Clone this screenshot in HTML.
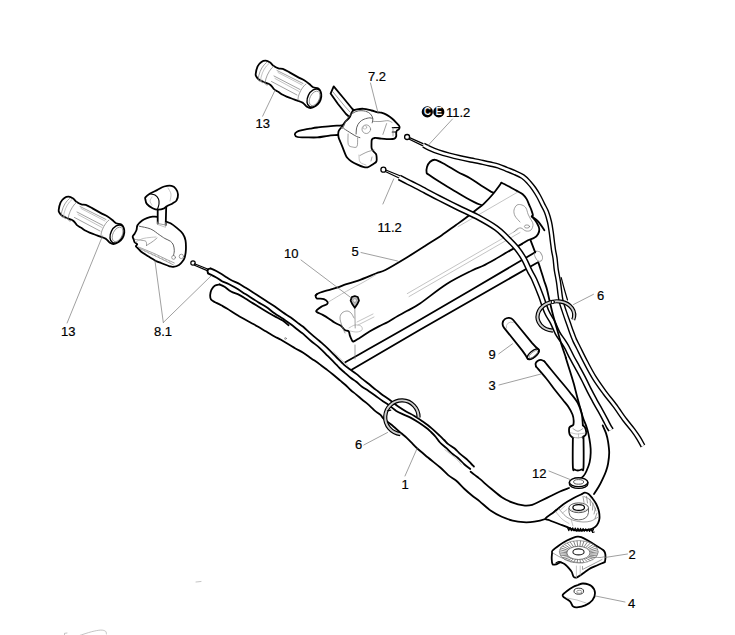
<!DOCTYPE html>
<html><head><meta charset="utf-8"><style>
html,body{margin:0;padding:0;background:#fff;overflow:hidden;width:735px;height:635px;}
svg{display:block;}
.k{fill:none;stroke:#000;stroke-width:1.8;stroke-linejoin:round;stroke-linecap:round;}
.kf{fill:#fff;stroke:#000;stroke-width:1.8;stroke-linejoin:round;stroke-linecap:round;}
.kt{fill:none;stroke:#000;stroke-width:1.2;stroke-linejoin:round;stroke-linecap:round;}
.g{fill:none;stroke:#777;stroke-width:0.7;stroke-linecap:round;}
.d{fill:none;stroke:#555;stroke-width:0.95;stroke-linecap:round;}
.gl{fill:none;stroke:#aaa;stroke-width:0.7;stroke-linecap:round;}
.w{fill:#fff;stroke:none;}
.cab{fill:none;stroke:#000;stroke-width:4.6;stroke-linejoin:round;stroke-linecap:butt;}
.cabw{fill:none;stroke:#fff;stroke-width:2.2;stroke-linejoin:round;stroke-linecap:butt;}
text{font-family:"Liberation Sans",sans-serif;font-size:13px;fill:#000;stroke:#000;stroke-width:0.2;}
</style></head><body>
<svg width="735" height="635" viewBox="0 0 735 635">
<g transform="translate(0.0 0.0)">
<path class="kf" d="M255.7 74.0C255.9 72.3 256.7 68.4 257.6 66.4C258.6 64.4 260.0 63.0 261.4 62.0C262.8 61.0 264.3 60.6 265.8 60.7C267.3 60.8 268.9 61.8 270.2 62.6C271.5 63.5 272.0 64.8 273.4 65.8C274.8 66.8 276.8 67.8 278.4 68.3C280.0 68.8 281.0 68.3 282.8 68.9C284.6 69.5 286.6 70.7 289.1 72.1C291.6 73.5 295.4 75.7 297.9 77.1C300.4 78.5 302.3 79.1 304.2 80.3C306.1 81.5 307.8 82.8 309.3 84.0C310.8 85.2 311.6 86.5 313.1 87.2C314.6 87.9 316.9 87.7 318.1 88.4C319.4 89.1 320.1 90.2 320.6 91.6C321.1 93.0 321.5 94.8 321.3 96.6C321.1 98.4 320.3 100.7 319.4 102.3C318.4 103.9 317.1 105.1 315.6 106.1C314.1 107.0 312.0 107.9 310.5 108.0C309.0 108.1 308.1 107.5 306.8 106.7C305.6 105.9 304.7 104.0 303.0 102.9C301.3 101.9 298.6 101.1 296.7 100.4C294.8 99.7 293.3 99.1 291.6 98.5C289.9 97.9 288.1 97.2 286.6 96.6C285.1 96.0 284.3 95.6 282.8 94.8C281.3 94.0 279.3 92.5 277.8 91.6C276.3 90.6 275.3 90.2 274.0 89.1C272.7 87.9 271.9 85.9 270.2 84.7C268.5 83.5 265.8 82.9 263.9 82.1C262.0 81.2 260.2 80.5 258.9 79.6C257.6 78.7 256.8 77.4 256.3 76.5C255.8 75.6 255.5 75.7 255.7 74.0Z" />
<path d="M266.5 62.5 A3.2 9.8 27 0 0 262 80.5" class="g"/>
<path d="M269 63.5 A3.2 9.8 27 0 0 264.5 81.8" class="gl"/>
<path d="M273.8 66 A3.2 9.8 27 0 0 268.6 84.5" class="g"/>
<path class="g" d="M277.0 70.5L303.0 83.5"/>
<path class="g" d="M274.0 76.0L300.0 89.5"/>
<path class="g" d="M271.5 81.5L297.0 95.0"/>
<path class="gl" d="M278.0 72.5L302.0 85.0"/>
<path class="gl" d="M275.0 78.5L299.0 91.5"/>
<path d="M306 84 A2.5 9.2 27 0 0 299.5 100.5" class="g"/>
<ellipse cx="314" cy="98" rx="6.2" ry="9.6" transform="rotate(27 314 98)" class="kf" style="stroke-width:1.4"/>
<ellipse cx="314.6" cy="98.4" rx="4.6" ry="7.8" transform="rotate(27 314.6 98.4)" class="g"/>
</g>
<g transform="translate(-197.0 136.0)">
<path class="kf" d="M255.7 74.0C255.9 72.3 256.7 68.4 257.6 66.4C258.6 64.4 260.0 63.0 261.4 62.0C262.8 61.0 264.3 60.6 265.8 60.7C267.3 60.8 268.9 61.8 270.2 62.6C271.5 63.5 272.0 64.8 273.4 65.8C274.8 66.8 276.8 67.8 278.4 68.3C280.0 68.8 281.0 68.3 282.8 68.9C284.6 69.5 286.6 70.7 289.1 72.1C291.6 73.5 295.4 75.7 297.9 77.1C300.4 78.5 302.3 79.1 304.2 80.3C306.1 81.5 307.8 82.8 309.3 84.0C310.8 85.2 311.6 86.5 313.1 87.2C314.6 87.9 316.9 87.7 318.1 88.4C319.4 89.1 320.1 90.2 320.6 91.6C321.1 93.0 321.5 94.8 321.3 96.6C321.1 98.4 320.3 100.7 319.4 102.3C318.4 103.9 317.1 105.1 315.6 106.1C314.1 107.0 312.0 107.9 310.5 108.0C309.0 108.1 308.1 107.5 306.8 106.7C305.6 105.9 304.7 104.0 303.0 102.9C301.3 101.9 298.6 101.1 296.7 100.4C294.8 99.7 293.3 99.1 291.6 98.5C289.9 97.9 288.1 97.2 286.6 96.6C285.1 96.0 284.3 95.6 282.8 94.8C281.3 94.0 279.3 92.5 277.8 91.6C276.3 90.6 275.3 90.2 274.0 89.1C272.7 87.9 271.9 85.9 270.2 84.7C268.5 83.5 265.8 82.9 263.9 82.1C262.0 81.2 260.2 80.5 258.9 79.6C257.6 78.7 256.8 77.4 256.3 76.5C255.8 75.6 255.5 75.7 255.7 74.0Z" />
<path d="M266.5 62.5 A3.2 9.8 27 0 0 262 80.5" class="g"/>
<path d="M269 63.5 A3.2 9.8 27 0 0 264.5 81.8" class="gl"/>
<path d="M273.8 66 A3.2 9.8 27 0 0 268.6 84.5" class="g"/>
<path class="g" d="M277.0 70.5L303.0 83.5"/>
<path class="g" d="M274.0 76.0L300.0 89.5"/>
<path class="g" d="M271.5 81.5L297.0 95.0"/>
<path class="gl" d="M278.0 72.5L302.0 85.0"/>
<path class="gl" d="M275.0 78.5L299.0 91.5"/>
<path d="M306 84 A2.5 9.2 27 0 0 299.5 100.5" class="g"/>
<ellipse cx="314" cy="98" rx="6.2" ry="9.6" transform="rotate(27 314 98)" class="kf" style="stroke-width:1.4"/>
<ellipse cx="314.6" cy="98.4" rx="4.6" ry="7.8" transform="rotate(27 314.6 98.4)" class="g"/>
</g>
<path class="kf" d="M330.6 93.6L333.7 86.4L343.0 97.5L352.0 108.5L355.5 112.0L350.0 117.5L346.0 114.0L338.0 104.0Z"/>
<path class="g" d="M332.6 91.5L345.0 106.5L350.0 112.0"/>
<path class="kf" d="M294.8 134.5C294.7 133.6 295.8 132.5 297.0 131.8C298.2 131.1 300.0 130.7 302.2 130.2C304.4 129.7 307.5 129.0 310.0 128.6C312.5 128.2 313.7 127.9 317.2 127.5C320.7 127.1 326.7 126.4 330.8 126.1C334.9 125.8 339.3 125.6 341.7 125.4C344.1 125.2 344.3 123.7 345.0 125.0C345.7 126.3 346.8 131.4 346.0 133.0C345.2 134.6 341.9 134.2 340.5 134.5C339.1 134.8 339.7 134.8 337.6 135.0C335.5 135.2 331.5 135.4 328.1 135.8C324.7 136.2 320.8 137.2 317.2 137.4C313.6 137.7 309.6 137.4 306.3 137.3C303.0 137.2 299.4 137.5 297.5 137.0C295.6 136.5 294.9 135.4 294.8 134.5Z" />
<path class="kf" d="M349.5 117.5C350.8 115.7 351.4 112.3 352.6 111.0C353.9 109.7 355.1 109.8 357.0 109.4C358.9 109.0 361.3 108.6 363.7 108.8C366.1 109.0 369.2 110.0 371.4 110.5C373.6 111.0 375.2 111.7 376.9 112.1C378.5 112.5 379.6 112.2 381.3 112.7C383.0 113.2 385.0 113.9 386.8 114.9C388.6 115.9 390.7 117.3 392.3 118.7C393.9 120.1 395.5 121.9 396.7 123.2C397.9 124.5 399.1 125.5 399.5 126.5C399.9 127.5 399.4 128.5 398.9 129.2C398.4 129.9 397.1 130.2 396.7 130.9C396.2 131.6 396.3 132.2 396.2 133.1C396.1 134.0 396.5 135.5 396.2 136.4C395.9 137.3 395.5 138.2 394.5 138.6C393.5 139.0 392.3 139.1 390.1 139.1C387.9 139.1 383.9 138.8 381.3 138.6C378.7 138.4 376.3 137.8 374.7 138.0C373.1 138.2 372.4 138.5 371.9 139.5C371.4 140.5 371.5 142.6 371.5 144.1C371.5 145.6 371.3 147.3 371.7 148.5C372.1 149.7 372.9 150.6 373.6 151.5C374.3 152.4 375.5 153.1 376.0 154.0C376.5 154.9 376.5 155.8 376.6 157.0C376.7 158.2 377.0 160.3 376.4 161.5C375.8 162.7 374.5 163.2 373.0 164.2C371.5 165.2 369.3 166.9 367.5 167.3C365.7 167.7 363.7 166.9 362.0 166.5C360.3 166.1 359.2 165.4 357.5 164.6C355.8 163.8 353.2 162.5 351.5 161.4C349.8 160.3 348.4 159.0 347.5 158.0C346.6 157.0 346.5 157.0 345.8 155.4C345.1 153.8 344.0 150.9 343.1 148.6C342.2 146.3 341.1 143.7 340.3 141.8C339.5 139.9 338.8 138.7 338.5 137.0C338.2 135.3 338.0 133.2 338.5 131.5C339.0 129.8 340.5 128.6 341.6 127.0C342.7 125.4 343.7 123.6 345.0 122.0C346.3 120.4 348.2 119.3 349.5 117.5Z" />
<path class="d" d="M342.8 128.2C343.6 126.6 345.8 121.0 347.4 118.5C349.0 116.0 350.7 114.7 352.5 113.4C354.3 112.1 356.1 111.3 358.3 110.9C360.5 110.5 363.4 110.7 365.5 111.2C367.6 111.7 369.4 112.9 370.6 114.1C371.8 115.3 372.5 117.0 372.8 118.5C373.1 120.0 372.3 122.1 372.2 122.8" />
<path class="d" d="M356.1 134.0C356.2 132.9 356.2 129.2 356.8 127.2C357.4 125.2 358.5 123.4 359.7 122.1C360.9 120.8 362.4 119.9 364.1 119.2C365.8 118.5 368.5 117.9 369.9 117.8C371.3 117.7 372.2 118.6 372.6 118.8" />
<path class="d" d="M344.5 129.0C345.6 129.7 348.9 131.9 351.0 133.2C353.1 134.5 355.3 135.9 356.8 136.6C358.3 137.3 359.4 137.4 359.9 137.6" />
<circle cx="366.3" cy="129.2" r="4.3" class="g"/>
<circle cx="364.9" cy="127.3" r="1.8" class="gl"/>
<path class="g" d="M348.1 134.0C348.1 135.8 347.6 142.3 348.3 144.5C349.0 146.7 351.1 146.7 352.5 147.0C353.9 147.3 356.1 148.0 357.0 146.5C357.9 145.0 357.5 139.4 357.6 138.0" />
<path class="g" d="M372.8 121.4C374.0 121.4 377.5 121.6 380.0 121.5C382.5 121.4 386.0 120.5 388.0 120.7C390.0 120.9 391.3 122.2 392.0 122.5" />
<path class="g" d="M382.9 134.4L386.6 123.6"/>
<path class="kt" d="M392.3 127.6L399.0 127.6"/>
<path class="kt" d="M392.3 132.0L396.5 132.0"/>
<path class="g" d="M393.0 127.6L393.0 136.0"/>
<path class="g" d="M360.0 155.5C361.2 154.9 364.7 152.9 367.0 152.0C369.3 151.1 372.8 150.3 374.0 150.0" />
<path class="gl" d="M359.0 155.0C359.2 156.2 358.8 160.3 360.0 162.0C361.2 163.7 365.0 164.5 366.0 165.0" />
<path class="g" d="M371.0 161.0L372.0 157.0"/>
<path class="g" d="M340.0 126.8L344.0 128.5" />
<path class="kf" d="M137.5 225.2C138.4 223.6 140.6 221.7 142.2 220.5C143.8 219.3 145.2 218.7 146.9 218.1C148.6 217.5 150.8 216.9 152.6 216.7C154.4 216.5 155.9 216.4 157.5 216.9C159.1 217.4 160.6 218.7 162.0 219.5C163.4 220.3 164.4 220.9 165.8 221.5C167.2 222.1 168.6 222.2 170.5 223.3C172.4 224.4 175.0 226.4 177.1 228.1C179.2 229.8 181.4 231.6 182.8 233.7C184.2 235.8 185.0 237.7 185.5 240.4C186.0 243.1 186.0 247.0 185.9 249.8C185.8 252.6 185.2 255.5 184.7 257.4C184.1 259.3 183.5 260.1 182.6 261.3C181.7 262.6 180.5 264.0 179.0 264.9C177.5 265.8 175.0 266.6 173.4 266.8C171.8 267.0 171.7 266.9 169.6 266.3C167.5 265.7 163.5 263.9 161.1 263.0C158.7 262.1 157.8 261.9 155.4 260.7C153.0 259.4 149.3 257.0 146.9 255.5C144.5 254.0 142.8 253.0 141.2 251.7C139.6 250.4 138.4 248.8 137.5 247.9C136.6 247.0 135.9 246.8 135.8 246.2C135.8 245.6 137.4 244.9 137.2 244.2C137.0 243.5 135.2 243.0 134.6 242.2C134.0 241.4 134.0 240.3 133.7 239.4C133.4 238.5 132.5 237.6 132.7 236.6C132.8 235.6 134.0 234.8 134.6 233.7C135.2 232.6 136.0 231.4 136.5 230.0C137.0 228.6 136.6 226.8 137.5 225.2Z" />
<path d="M157.7 206 L166.2 205 L165.7 226.5 L157.7 223.8 Z" style="fill:#fff"/>
<path class="k" d="M157.7 208.5L157.7 223.5"/>
<path class="k" d="M166.2 207.0L165.7 225.0"/>
<path class="g" d="M157.7 223.5L165.7 225.0"/>
<path class="kf" d="M145.4 197.4C146.1 196.5 147.8 195.0 149.7 193.8C151.6 192.6 154.6 191.3 157.0 190.1C159.4 188.9 161.8 187.2 164.2 186.5C166.6 185.8 169.6 185.4 171.5 185.8C173.4 186.2 174.7 187.2 175.8 188.7C176.9 190.1 177.9 192.6 178.0 194.5C178.1 196.4 177.4 198.9 176.6 200.3C175.8 201.8 174.5 202.2 172.9 203.2C171.3 204.2 168.6 205.2 167.1 206.1C165.6 206.9 165.6 207.7 164.2 208.3C162.8 208.9 160.3 209.7 158.4 209.7C156.5 209.7 154.5 209.3 152.6 208.3C150.7 207.3 148.0 205.4 146.8 203.9C145.6 202.4 145.6 200.6 145.4 199.5C145.2 198.4 144.7 198.3 145.4 197.4Z" />
<path class="k" style="stroke-width:1.1" d="M149.7 193.8C150.6 194.0 153.5 194.1 155.0 195.0C156.5 195.9 157.8 197.5 158.5 199.0C159.2 200.5 159.2 202.3 159.0 204.0C158.8 205.7 157.8 208.4 157.5 209.3" />
<path class="gl" d="M152.0 197.0C151.7 197.7 150.0 199.7 150.0 201.0C150.0 202.3 151.7 204.3 152.0 205.0" />
<path class="gl" d="M168.0 188.0C168.5 189.0 170.7 191.8 171.0 194.0C171.3 196.2 170.2 199.8 170.0 201.0" />
<path class="d" d="M139.3 226.2C141.2 226.7 147.4 227.6 150.7 229.0C154.0 230.4 156.8 233.1 159.2 234.7C161.6 236.3 163.0 237.4 164.9 238.5C166.8 239.6 169.1 240.2 170.5 241.3C171.9 242.4 172.8 243.5 173.4 245.1C174.0 246.7 174.3 249.1 174.3 250.8C174.3 252.5 173.6 254.7 173.4 255.5" />
<path class="g" d="M135.0 239.5C136.2 239.6 140.2 240.0 142.0 240.3C143.8 240.6 145.2 240.6 146.0 241.5C146.8 242.4 146.4 244.8 146.5 245.5" />
<path class="g" d="M146.5 245.5C147.4 244.9 150.2 243.2 152.0 242.0C153.8 240.8 156.2 238.7 157.0 238.0" />
<path class="gl" d="M135.5 242.0C136.8 241.4 140.6 239.2 143.0 238.5C145.4 237.8 147.8 237.8 150.0 237.5C152.2 237.2 155.0 237.1 156.0 237.0" />
<path class="g" d="M138.4 247.0C139.8 247.6 144.0 249.2 147.0 250.5C150.0 251.8 153.4 253.1 156.4 254.5C159.4 255.9 162.0 257.3 165.0 258.7C168.0 260.1 172.8 262.3 174.3 263.0" />
<path class="g" d="M140.3 248.9C141.6 249.5 145.3 251.2 148.0 252.5C150.7 253.8 153.6 255.0 156.4 256.4C159.2 257.8 162.2 259.2 165.0 260.6C167.8 262.0 172.0 264.2 173.4 264.9" />
<path class="gl" d="M144.0 249.5L145.2 251.8"/>
<path class="gl" d="M147.6 251.2L148.8 253.5"/>
<path class="gl" d="M151.2 252.8L152.4 255.1"/>
<path class="gl" d="M154.8 254.4L156.0 256.8"/>
<path class="gl" d="M158.4 256.1L159.6 258.4"/>
<path class="gl" d="M162.0 257.8L163.2 260.1"/>
<path class="gl" d="M165.6 259.4L166.8 261.7"/>
<path class="gl" d="M169.2 261.1L170.4 263.4"/>
<circle cx="173.6" cy="257.4" r="1.9" class="g"/>
<circle cx="181.4" cy="256.4" r="2.2" class="g"/>
<path class="gl" d="M157.7 222.0L157.7 224.5L165.5 227.3L165.7 222.5"/>
<path class="kf" d="M429.7 162.2C431.1 161.0 432.5 159.4 435.2 159.8C437.9 160.2 441.8 162.7 445.6 164.7C449.4 166.7 453.7 169.8 457.8 172.0C461.9 174.2 466.2 175.9 470.1 178.2C474.0 180.4 477.6 183.3 481.1 185.5C484.6 187.7 487.8 189.8 490.9 191.6C494.0 193.3 499.6 193.4 500.0 196.0C500.4 198.6 496.4 205.6 493.0 207.0C489.6 208.4 484.7 206.2 479.8 204.5C474.9 202.8 468.6 199.1 463.9 196.5C459.2 193.9 455.8 191.6 451.7 189.2C447.6 186.8 443.4 184.2 439.5 181.8C435.6 179.4 430.6 176.0 428.5 174.5C426.4 173.0 426.9 173.8 426.6 172.6C426.4 171.4 426.5 168.8 427.0 167.1C427.5 165.4 428.3 163.4 429.7 162.2Z" />
<path class="w" style="fill:#fff" d="M316.8 294.2L320.4 292.5L328.6 290.1L336.9 287.7L346.4 284.2L358.2 280.6L375.9 273.5L385.4 270.0L406.0 258.0L425.0 246.0L441.5 235.4L456.0 225.0L466.0 217.8L476.0 210.0L484.0 203.6L493.0 194.0L501.4 182.8L506.0 185.0L511.2 187.7L516.9 190.9L522.7 194.2L526.7 199.1L529.2 205.0L531.2 209.5L532.9 215.1L531.8 216.4L536.8 222.7L539.3 229.0L538.1 234.0L534.3 237.8L528.0 240.3L521.7 244.1L510.3 250.4L495.2 259.2L472.0 270.5L446.7 284.0L420.0 303.5L397.8 316.0L378.9 326.4L360.0 337.7L353.4 341.5L351.7 333.0L349.9 331.0L348.7 329.0L345.2 327.0L342.8 325.5L340.5 323.0L334.5 320.0L328.6 316.0L322.7 312.5L316.8 310.0L316.8 308.0L321.5 304.6L326.9 302.3L327.5 300.0L323.9 297.0L319.2 296.4L316.8 296.4L315.6 295.5Z"/>
<path class="k" d="M315.6 295.5C315.8 295.3 316.0 294.7 316.8 294.2C317.6 293.7 318.4 293.2 320.4 292.5C322.4 291.8 325.9 290.9 328.6 290.1C331.4 289.3 333.9 288.7 336.9 287.7C339.9 286.7 342.8 285.4 346.4 284.2C349.9 283.0 353.3 282.4 358.2 280.6C363.1 278.8 371.4 275.3 375.9 273.5C380.4 271.7 380.4 272.6 385.4 270.0C390.4 267.4 399.4 262.0 406.0 258.0C412.6 254.0 419.1 249.8 425.0 246.0C430.9 242.2 436.3 238.9 441.5 235.4C446.7 231.9 451.9 227.9 456.0 225.0C460.1 222.1 462.7 220.3 466.0 217.8C469.3 215.3 473.0 212.4 476.0 210.0C479.0 207.6 481.2 206.3 484.0 203.6C486.8 200.9 490.1 197.5 493.0 194.0C495.9 190.5 500.0 184.7 501.4 182.8" />
<path class="k" d="M501.4 182.8C502.2 183.2 504.4 184.2 506.0 185.0C507.6 185.8 509.4 186.7 511.2 187.7C513.0 188.7 515.0 189.8 516.9 190.9C518.8 192.0 521.1 192.8 522.7 194.2C524.3 195.6 525.6 197.3 526.7 199.1C527.8 200.9 528.5 203.3 529.2 205.0C530.0 206.7 530.6 207.8 531.2 209.5C531.8 211.2 532.8 213.9 532.9 215.1C533.0 216.2 532.0 216.2 531.8 216.4" />
<path class="k" d="M531.8 216.4C532.6 217.4 535.5 220.6 536.8 222.7C538.0 224.8 539.1 227.1 539.3 229.0C539.5 230.9 538.9 232.5 538.1 234.0C537.3 235.5 536.0 236.8 534.3 237.8C532.6 238.9 530.1 239.2 528.0 240.3C525.9 241.4 522.8 243.5 521.7 244.1" />
<path class="k" d="M316.8 294.2C316.6 294.5 315.6 295.3 315.6 296.0C315.6 296.7 316.2 298.0 316.8 298.4C317.4 298.8 318.0 298.5 319.2 298.6C320.4 298.7 322.5 298.6 323.9 299.2C325.3 299.8 327.0 301.0 327.5 301.9C328.0 302.8 327.9 303.5 326.9 304.3C325.9 305.1 323.2 305.6 321.5 306.6C319.8 307.6 317.6 309.3 316.8 310.2C316.0 311.1 315.8 311.2 316.8 312.0C317.8 312.8 320.7 313.8 322.7 314.9C324.7 316.0 326.6 317.1 328.6 318.4C330.6 319.7 332.5 321.4 334.5 322.6C336.5 323.8 339.1 324.6 340.5 325.5C341.9 326.4 342.0 327.1 342.8 327.9C343.6 328.7 344.2 329.7 345.2 330.3C346.2 330.9 347.9 330.5 348.7 331.4C349.5 332.3 349.4 334.2 349.9 335.6C350.4 337.0 351.1 338.7 351.7 339.7C352.3 340.7 352.0 341.8 353.4 341.5C354.8 341.2 357.3 339.3 360.0 337.7C362.7 336.1 366.4 333.5 369.5 331.6C372.6 329.7 375.8 328.0 378.9 326.4C382.0 324.8 385.2 323.4 388.4 321.7C391.5 320.0 394.6 317.8 397.8 316.0C401.0 314.2 403.6 312.9 407.3 310.8C411.0 308.7 413.4 308.0 420.0 303.5C426.6 299.0 438.0 289.5 446.7 284.0C455.4 278.5 466.0 273.5 472.0 270.5C478.0 267.5 478.7 267.9 482.6 266.0C486.5 264.1 490.6 261.8 495.2 259.2C499.8 256.6 505.9 252.9 510.3 250.4C514.7 247.9 519.8 245.2 521.7 244.1" />
<path class="gl" d="M328.6 301.9C331.6 300.1 340.5 294.6 346.4 291.3C352.3 288.0 359.2 284.6 364.1 281.8C369.0 279.0 373.9 275.9 375.9 274.7" />
<path class="gl" d="M407.3 293.6L518.0 229.5"/>
<path class="gl" d="M409.0 296.6L520.0 232.5"/>
<path class="gl" d="M458.0 226.7L517.0 192.5"/>
<path class="g" d="M520.0 222.0C519.2 221.0 516.0 218.0 515.0 216.0C514.0 214.0 513.7 211.8 514.0 210.0C514.3 208.2 515.7 205.8 517.0 205.0C518.3 204.2 520.5 204.5 522.0 205.0C523.5 205.5 525.0 206.5 526.0 208.0C527.0 209.5 527.3 212.3 528.0 214.0C528.7 215.7 529.2 216.3 530.0 218.0C530.8 219.7 532.8 222.0 533.0 224.0C533.2 226.0 532.2 228.8 531.0 230.0C529.8 231.2 527.7 231.3 526.0 231.0C524.3 230.7 522.5 228.3 521.0 228.0C519.5 227.7 518.2 228.3 517.0 229.0C515.8 229.7 514.5 231.5 514.0 232.0" />
<ellipse cx="527" cy="226.5" rx="2.6" ry="1.6" class="g"/>
<path class="g" d="M345.0 333.0C344.5 331.8 342.8 328.5 342.0 326.0C341.2 323.5 340.0 320.2 340.0 318.0C340.0 315.8 340.8 314.2 342.0 313.0C343.2 311.8 345.5 311.0 347.0 311.0C348.5 311.0 349.8 311.8 351.0 313.0C352.2 314.2 353.5 317.2 354.0 318.0" />
<path class="gl" d="M357.0 322.0L373.0 314.0"/>
<path class="gl" d="M358.0 325.0L374.0 317.0"/>
<path class="gl" d="M349.0 328.0C350.0 327.5 353.0 325.3 355.0 325.0C357.0 324.7 359.8 325.2 361.0 326.0C362.2 326.8 362.7 329.0 362.0 330.0C361.3 331.0 359.0 331.8 357.0 332.0C355.0 332.2 351.2 331.2 350.0 331.0" />
<path class="k" d="M345.3 362.2C357.8 355.1 388.2 338.2 420.0 319.8C451.8 301.4 516.7 263.1 536.0 251.8" />
<path class="k" d="M352.0 369.5C363.3 362.9 389.0 347.7 420.0 329.8C451.0 311.9 518.3 273.5 538.0 262.2" />
<ellipse cx="538.6" cy="256.2" rx="3.5" ry="5.3" transform="rotate(-25 538.6 256.2)" style="fill:#fff;stroke:#999;stroke-width:0.9"/>
<path class="k" d="M530.5 240.1L535.2 252.4"/>
<path class="g" d="M354.8 308.0L355.2 328.0"/>
<path class="g" d="M355.0 345.0L355.0 359.0"/>
<path d="M350.6 300.6 L351.8 297 L354.8 296 L357.8 297 L359 300.6 L357.2 304.3 L354.8 307.8 L352.4 304.3Z" style="fill:#bbb;stroke:#000;stroke-width:1.7;stroke-linejoin:round"/>
<path d="M352.6 300 L354.8 298.6 L357 300 L354.8 303Z" style="fill:#eee;stroke:#888;stroke-width:0.6"/>
<path class="w" style="fill:#fff" d="M219.6 284.4L214.7 285.7L211.4 289.8L210.2 294.7L211.0 299.6L214.7 302.0L214.7 302.0L221.2 305.3L226.9 308.5L238.0 315.5L250.0 322.2L258.2 326.7L266.3 331.6L274.5 336.5L281.0 339.8L295.0 348.2L303.2 352.7L311.3 358.4L319.5 364.1L326.0 369.0L333.0 374.5L340.0 380.4L344.9 384.5L350.6 390.0L356.3 394.6L362.0 399.5L367.8 404.1L371.8 407.8L375.0 410.9L380.5 414.9L383.7 418.8L390.8 424.3L395.5 428.2L401.0 433.0L406.5 437.7L411.3 442.4L417.9 449.0L428.0 457.5L440.0 467.3L448.2 475.1L456.3 480.8L464.5 489.0L472.0 495.5L480.0 501.6L490.9 510.8L501.8 516.8L512.7 520.6L523.5 522.2L534.4 521.7L545.3 519.0L550.7 515.7L556.2 510.3L570.0 515.0L590.0 497.0L594.0 494.0L594.0 494.0L598.5 487.0L602.7 478.8L606.0 471.2L608.1 463.5L609.2 452.7L608.1 441.8L606.0 433.1L602.7 425.4L598.0 410.0L585.0 370.0L570.0 355.0L565.7 357.6L570.1 371.5L573.9 384.1L577.6 398.5L580.2 408.0L583.1 418.0L586.4 426.5L588.5 434.1L590.2 444.0L590.7 452.7L589.6 462.4L586.5 471.0L583.5 476.0L579.0 479.5L582.0 476.0L569.0 488.0L560.0 491.5L550.7 496.0L541.0 500.8L532.2 504.8L523.5 505.4L512.7 502.7L501.8 497.2L490.9 488.5L485.7 484.1L479.2 478.4L470.6 471.8L473.9 466.5L471.0 463.5L466.9 459.3L460.4 454.2L454.7 448.5L448.2 444.1L444.1 440.0L439.9 435.9L431.7 428.4L422.3 421.2L414.4 416.0L406.5 411.7L398.6 406.8L390.8 400.7L382.9 395.2L378.2 391.5L372.7 387.3L368.6 383.7L362.9 379.4L356.3 373.9L349.8 369.2L344.1 364.8L335.8 356.5L327.7 348.4L319.5 341.0L311.3 334.2L303.2 326.8L299.0 323.8L290.8 317.5L282.7 312.3L274.5 306.3L266.3 301.0L258.2 295.7L253.1 292.4L245.7 287.8L238.4 283.4L231.0 280.0L224.5 275.9L216.3 271.0L210.6 268.5Z"/>
<path class="k" d="M219.6 284.4C218.8 284.6 216.1 284.8 214.7 285.7C213.3 286.6 212.2 288.3 211.4 289.8C210.7 291.3 210.3 293.1 210.2 294.7C210.1 296.3 210.2 298.4 211.0 299.6C211.8 300.8 214.1 301.6 214.7 302.0C215.3 302.4 213.6 301.4 214.7 302.0C215.8 302.6 219.2 304.2 221.2 305.3C223.2 306.4 224.1 306.8 226.9 308.5C229.7 310.2 234.2 313.2 238.0 315.5C241.8 317.8 246.6 320.3 250.0 322.2C253.4 324.1 255.5 325.1 258.2 326.7C260.9 328.3 263.6 330.0 266.3 331.6C269.0 333.2 272.1 335.1 274.5 336.5C276.9 337.9 277.6 337.9 281.0 339.8C284.4 341.8 291.3 346.1 295.0 348.2C298.7 350.3 300.5 351.0 303.2 352.7C305.9 354.4 308.6 356.5 311.3 358.4C314.0 360.3 317.1 362.3 319.5 364.1C321.9 365.9 323.8 367.3 326.0 369.0C328.2 370.7 330.7 372.6 333.0 374.5C335.3 376.4 338.0 378.7 340.0 380.4C342.0 382.1 343.1 382.9 344.9 384.5C346.7 386.1 348.7 388.3 350.6 390.0C352.5 391.7 354.4 393.0 356.3 394.6C358.2 396.2 360.1 397.9 362.0 399.5C363.9 401.1 366.2 402.7 367.8 404.1C369.4 405.5 370.6 406.7 371.8 407.8C373.0 408.9 373.6 409.7 375.0 410.9C376.4 412.1 379.1 413.6 380.5 414.9C381.9 416.2 382.0 417.2 383.7 418.8C385.4 420.4 388.8 422.7 390.8 424.3C392.8 425.9 393.8 426.8 395.5 428.2C397.2 429.6 399.2 431.4 401.0 433.0C402.8 434.6 404.8 436.1 406.5 437.7C408.2 439.3 409.4 440.5 411.3 442.4C413.2 444.3 415.1 446.5 417.9 449.0C420.7 451.5 424.3 454.4 428.0 457.5C431.7 460.6 436.6 464.4 440.0 467.3C443.4 470.2 445.5 472.9 448.2 475.1C450.9 477.4 453.6 478.5 456.3 480.8C459.0 483.1 461.9 486.6 464.5 489.0C467.1 491.4 469.4 493.4 472.0 495.5C474.6 497.6 476.9 499.1 480.0 501.6C483.1 504.2 487.3 508.3 490.9 510.8C494.5 513.3 498.2 515.2 501.8 516.8C505.4 518.4 509.1 519.7 512.7 520.6C516.3 521.5 519.9 522.0 523.5 522.2C527.1 522.4 530.8 522.2 534.4 521.7C538.0 521.2 542.6 520.0 545.3 519.0C548.0 518.0 548.9 517.2 550.7 515.7C552.5 514.2 555.3 511.2 556.2 510.3" />
<path class="k" d="M219.6 284.4C220.4 284.8 222.6 285.6 224.5 286.8C226.4 288.0 228.6 290.1 231.0 291.5C233.4 292.9 236.8 293.7 239.2 294.9C241.6 296.1 243.9 297.6 245.7 298.7C247.5 299.8 247.9 300.2 250.0 301.5C252.1 302.8 255.5 304.8 258.2 306.5C260.9 308.2 263.6 309.9 266.3 311.5C269.0 313.1 271.8 314.6 274.5 316.1C277.2 317.6 280.4 319.1 282.7 320.6C285.0 322.1 287.5 324.4 288.5 325.2" />
<path class="k" d="M208.2 273.4C209.5 274.1 214.0 276.2 216.3 277.5C218.6 278.8 219.9 280.1 222.0 281.2C224.1 282.3 226.4 282.9 228.6 284.0C230.8 285.1 232.8 286.2 235.1 287.6C237.4 289.0 239.9 290.6 242.4 292.2C244.9 293.8 247.4 295.2 250.0 296.9C252.6 298.6 255.5 300.5 258.2 302.2C260.9 303.9 263.6 305.3 266.3 307.1C269.0 308.9 271.8 311.3 274.5 313.2C277.2 315.1 280.0 316.8 282.7 318.6C285.4 320.5 288.1 322.3 290.8 324.3C293.5 326.3 296.9 329.2 299.0 330.8C301.1 332.4 301.1 332.2 303.2 333.9C305.2 335.6 308.6 338.9 311.3 341.2C314.0 343.5 316.8 345.4 319.5 347.8C322.2 350.2 325.0 353.2 327.7 355.9C330.4 358.6 333.8 362.0 335.8 364.1C337.9 366.2 338.5 367.1 340.0 368.5C341.5 369.9 343.1 371.2 344.9 372.8C346.7 374.4 348.7 376.3 350.6 377.8C352.5 379.3 354.4 380.3 356.3 381.8C358.2 383.3 359.9 385.2 362.0 386.7C364.1 388.2 366.4 389.5 368.6 391.0C370.8 392.5 372.7 393.8 375.1 395.5C377.5 397.2 380.5 399.6 382.9 401.2C385.2 402.8 387.0 403.8 389.2 405.4C391.4 407.0 394.1 409.4 396.3 410.9C398.5 412.3 400.2 413.0 402.6 414.1C405.0 415.2 407.9 416.2 410.5 417.6C413.1 419.0 415.7 420.6 418.3 422.3C420.9 424.0 424.1 426.2 426.2 427.8C428.3 429.4 429.4 430.5 431.0 432.0C432.6 433.5 434.3 435.2 435.8 437.0C437.3 438.8 438.2 440.6 440.0 442.5C441.8 444.4 444.5 446.3 446.5 448.2C448.5 450.1 450.3 452.0 452.2 453.6C454.1 455.2 455.9 456.2 458.0 458.0C460.1 459.8 462.5 462.7 464.5 464.5C466.5 466.3 469.2 468.2 470.2 469.0" />
<path class="k" d="M210.6 268.5C211.6 268.9 214.0 269.8 216.3 271.0C218.6 272.2 222.1 274.4 224.5 275.9C226.9 277.4 228.7 278.8 231.0 280.0C233.3 281.2 236.0 282.1 238.4 283.4C240.8 284.7 243.2 286.3 245.7 287.8C248.1 289.3 251.0 291.1 253.1 292.4C255.2 293.7 256.0 294.3 258.2 295.7C260.4 297.1 263.6 299.2 266.3 301.0C269.0 302.8 271.8 304.4 274.5 306.3C277.2 308.2 280.0 310.4 282.7 312.3C285.4 314.2 288.1 315.6 290.8 317.5C293.5 319.4 296.9 322.2 299.0 323.8C301.1 325.4 301.1 325.1 303.2 326.8C305.2 328.5 308.6 331.8 311.3 334.2C314.0 336.6 316.8 338.6 319.5 341.0C322.2 343.4 325.0 345.8 327.7 348.4C330.4 351.0 333.1 353.8 335.8 356.5C338.5 359.2 341.8 362.7 344.1 364.8C346.4 366.9 347.8 367.7 349.8 369.2C351.8 370.7 354.1 372.2 356.3 373.9C358.5 375.6 360.8 377.8 362.9 379.4C364.9 381.0 367.0 382.4 368.6 383.7C370.2 385.0 371.1 386.0 372.7 387.3C374.3 388.6 376.5 390.2 378.2 391.5C379.9 392.8 380.8 393.7 382.9 395.2C385.0 396.7 388.2 398.8 390.8 400.7C393.4 402.6 396.0 405.0 398.6 406.8C401.2 408.6 403.9 410.2 406.5 411.7C409.1 413.2 411.8 414.4 414.4 416.0C417.0 417.6 419.4 419.1 422.3 421.2C425.2 423.3 428.8 425.9 431.7 428.4C434.6 430.8 437.8 434.0 439.9 435.9C442.0 437.8 442.7 438.6 444.1 440.0C445.5 441.4 446.4 442.7 448.2 444.1C450.0 445.5 452.7 446.8 454.7 448.5C456.7 450.2 458.4 452.4 460.4 454.2C462.4 456.0 465.1 457.8 466.9 459.3C468.7 460.9 469.8 462.3 471.0 463.5C472.2 464.7 473.4 466.0 473.9 466.5" />
<path class="k" d="M470.6 471.8C472.0 472.9 476.7 476.3 479.2 478.4C481.7 480.4 483.8 482.4 485.7 484.1C487.6 485.8 488.2 486.3 490.9 488.5C493.6 490.7 498.2 494.8 501.8 497.2C505.4 499.6 509.1 501.3 512.7 502.7C516.3 504.1 520.2 505.0 523.5 505.4C526.8 505.8 529.3 505.6 532.2 504.8C535.1 504.0 537.9 502.3 541.0 500.8C544.1 499.3 547.5 497.6 550.7 496.0C553.9 494.4 557.0 492.8 560.0 491.5C563.0 490.2 567.5 488.6 569.0 488.0" />
<path class="k" d="M579.0 479.5C579.8 478.9 582.2 477.4 583.5 476.0C584.8 474.6 585.5 473.3 586.5 471.0C587.5 468.7 588.9 465.4 589.6 462.4C590.3 459.3 590.6 455.8 590.7 452.7C590.8 449.6 590.6 447.1 590.2 444.0C589.8 440.9 589.1 437.0 588.5 434.1C587.9 431.2 587.3 429.2 586.4 426.5C585.5 423.8 584.1 421.1 583.1 418.0C582.1 414.9 581.1 411.2 580.2 408.0C579.3 404.8 578.7 402.5 577.6 398.5C576.5 394.5 575.1 388.6 573.9 384.1C572.6 379.6 571.5 375.9 570.1 371.5C568.7 367.1 566.4 359.9 565.7 357.6" />
<path class="k" d="M602.7 425.4C603.2 426.7 605.1 430.4 606.0 433.1C606.9 435.8 607.6 438.5 608.1 441.8C608.6 445.1 609.2 449.1 609.2 452.7C609.2 456.3 608.6 460.4 608.1 463.5C607.6 466.6 606.9 468.6 606.0 471.2C605.1 473.8 604.0 476.2 602.7 478.8C601.5 481.4 600.0 484.5 598.5 487.0C597.0 489.5 594.8 492.8 594.0 494.0" />
<circle cx="285.5" cy="338.5" r="0.9" class="g"/>
<path class="gl" d="M333.4 351.8C334.3 352.8 336.7 355.3 339.1 357.6C341.6 359.9 346.6 364.4 348.1 365.7" />
<path class="gl" d="M444.9 449.8C446.8 451.3 453.6 456.4 456.3 458.8C459.0 461.2 460.4 463.6 461.2 464.5" />
<path class="k" d="M210.6 268.5C210.2 268.7 208.5 269.0 208.0 269.5C207.5 270.0 207.5 270.9 207.5 271.5C207.5 272.1 208.1 273.1 208.2 273.4" />
<path class="kf" d="M536.0 366.5C537.7 368.5 543.1 374.6 546.3 378.5C549.5 382.4 552.2 386.4 555.0 390.0C557.8 393.6 560.8 397.2 563.0 400.0C565.2 402.8 566.9 404.6 568.5 407.0C570.1 409.4 571.6 412.2 572.5 414.5C573.4 416.8 573.6 418.9 573.7 421.0C573.8 423.1 573.3 424.3 573.2 427.0C573.1 429.7 573.0 430.3 572.9 437.0C572.8 443.7 572.6 461.9 572.9 467.3C573.2 472.7 573.7 469.0 574.5 469.5C575.3 470.0 576.6 470.5 577.8 470.5C579.0 470.5 580.5 470.0 581.5 469.5C582.5 469.0 583.2 472.7 583.5 467.3C583.8 461.9 583.6 443.9 583.5 437.0C583.4 430.1 583.2 429.8 582.9 426.0C582.6 422.2 582.6 418.1 581.8 414.3C580.9 410.5 579.8 406.6 577.8 403.0C575.8 399.4 572.9 396.2 570.0 392.5C567.1 388.8 563.7 384.8 560.5 381.0C557.3 377.2 553.7 372.8 551.0 369.5C548.3 366.2 545.6 362.8 544.5 361.5" />
<path class="k" d="M544.5 361.5C543.9 361.2 542.2 359.9 541.0 359.8C539.8 359.7 538.4 360.4 537.5 361.0C536.6 361.6 535.9 362.6 535.6 363.5C535.4 364.4 535.9 366.0 536.0 366.5" />
<path d="M573 425.3 L582.8 425.3 L585 427.5 L586.1 431.3 L585.5 435.1 L583.4 436.5 L582.3 437.2 L573 437.6 L571.4 436.7 L569.5 434 L569 429.7 L569.8 427 Z" style="fill:#fff;stroke:none"/>
<path class="k" d="M573.0 425.3C572.5 425.6 570.5 426.3 569.8 427.0C569.1 427.7 569.0 428.5 569.0 429.7C569.0 430.9 569.1 432.8 569.5 434.0C569.9 435.2 570.8 436.1 571.4 436.7C572.0 437.3 572.7 437.6 573.0 437.8" />
<path class="k" d="M582.8 425.3C583.2 425.7 584.5 426.5 585.0 427.5C585.5 428.5 586.0 430.0 586.1 431.3C586.2 432.6 586.0 434.2 585.5 435.1C585.0 436.0 583.9 436.1 583.4 436.5C582.9 436.9 582.6 437.3 582.5 437.5" />
<path class="g" d="M573.0 428.6C573.8 429.0 576.3 431.2 577.9 431.2C579.5 431.2 582.0 429.0 582.8 428.6" />
<path class="gl" d="M570.5 432.6C571.6 432.8 574.5 433.9 577.0 434.0C579.5 434.1 584.1 433.1 585.5 432.9" />
<path class="g" d="M573.0 437.3C573.9 437.4 576.9 437.9 578.5 437.9C580.1 437.8 582.1 437.1 582.8 437.0" />
<path class="gl" d="M578.5 434.0L578.5 437.8"/>
<g transform="translate(519.6 337.4) rotate(51)">
<path d="M-17.5 -6 L12 -6.2 Q18 -6.4 21.5 -7.2 A3.1 7.2 0 0 1 21.5 7.2 Q18 6.4 12 6.2 L-17.5 6 A6 6 0 0 1 -17.5 -6 Z" class="kf"/>
<ellipse cx="21.5" cy="0" rx="3.1" ry="7.2" class="k" style="stroke-width:1.4"/>
<ellipse cx="21.8" cy="0" rx="2" ry="5.4" style="fill:none;stroke:#888;stroke-width:0.8"/>
<path d="M-15.5 -4.5 A5 5 0 0 0 -15.5 4.5" class="gl"/>
</g>
<path d="M569.4 482.2 L569.4 484 A9.2 4.4 0 0 0 587.8 484 L587.8 482.2" class="kf" style="stroke-width:1.4"/>
<ellipse cx="578.6" cy="482.2" rx="9.2" ry="4.4" class="kf" style="stroke-width:1.4"/>
<ellipse cx="578.6" cy="481.9" rx="5" ry="2.3" style="fill:#fff;stroke:#444;stroke-width:0.9"/>
<path class="kf" d="M545.7 518.3C546.5 516.9 551.3 514.1 554.3 511.7C557.3 509.3 560.6 506.2 563.8 504.0C567.0 501.8 570.4 499.9 573.3 498.3C576.2 496.7 579.1 495.4 581.0 494.5C582.9 493.6 583.5 492.7 584.8 492.6C586.1 492.5 587.3 493.1 588.6 494.0C589.9 494.9 591.1 496.6 592.4 498.3C593.7 500.0 595.1 501.8 596.2 504.0C597.3 506.2 598.5 509.3 599.0 511.7C599.5 514.1 599.6 516.4 599.5 518.3C599.4 520.2 598.8 521.7 598.1 523.1C597.4 524.5 596.3 525.9 595.2 526.9C594.1 527.9 593.0 528.5 591.4 529.0C589.8 529.5 587.6 529.7 585.7 530.0C583.8 530.3 582.1 530.7 580.0 530.7C577.9 530.7 575.5 530.4 573.3 529.8C571.1 529.2 569.1 527.9 566.7 526.9C564.3 525.9 561.9 525.1 559.0 524.0C556.1 522.9 551.7 521.2 549.5 520.2C547.3 519.2 544.9 519.7 545.7 518.3Z" />
<path class="g" d="M559.0 509.0C560.2 510.2 563.5 514.6 566.0 516.5C568.5 518.4 571.2 519.6 574.0 520.5C576.8 521.4 580.2 521.9 583.0 522.0C585.8 522.1 588.6 521.8 591.0 521.0C593.4 520.2 596.4 518.1 597.5 517.5" />
<path class="gl" d="M556.0 512.0C557.0 513.2 559.8 517.1 562.0 519.0C564.2 520.9 567.8 522.8 569.0 523.5" />
<path class="g" d="M584.0 496.5C584.8 496.9 587.5 497.8 589.0 499.0C590.5 500.2 591.8 502.0 593.0 504.0C594.2 506.0 595.5 509.8 596.0 511.0" />
<path class="g" d="M583.0 496.5L584.0 502.5"/>
<path class="g" d="M586.5 496.5L587.5 503.0"/>
<path class="g" d="M590.0 499.0L590.5 505.5"/>
<path class="g" d="M593.0 503.0L592.5 510.0"/>
<path class="g" d="M595.5 508.0L594.0 514.0"/>
<path class="g" d="M597.0 513.0L595.0 518.5"/>
<path class="gl" d="M560.5 510.0L565.0 506.0"/>
<path class="gl" d="M562.5 513.0L567.0 509.5"/>
<path d="M568.9 508 L569 512.5 Q570 519.6 578.7 519.9 Q587.6 519.6 588.5 512.5 L588.5 508" style="fill:#fff;stroke:#555;stroke-width:0.9"/>
<ellipse cx="578.7" cy="507.8" rx="9.8" ry="4.9" style="fill:#fff;stroke:#444;stroke-width:0.9"/>
<ellipse cx="578.7" cy="507.5" rx="5.8" ry="2.9" style="fill:#fff;stroke:#000;stroke-width:1.2"/>
<path class="gl" d="M571.0 509.5C571.7 509.8 573.2 511.2 575.0 511.5C576.8 511.8 580.1 511.8 582.0 511.5C583.9 511.2 585.8 509.8 586.5 509.5" />
<path class="gl" d="M571.0 519.0L573.0 526.0"/>
<path class="kt" d="M567.5 527.4L568.8 530.6L570.1 527.6L571.4 530.7L572.7 527.8L574.0 530.8L575.3 528.0L576.6 530.9L577.9 528.2L579.2 531.0L580.5 528.4L581.8 531.1L583.1 528.6L584.4 531.2L585.7 528.9L587.0 531.3L588.3 529.1L589.6 531.4L590.9 529.3L592.2 531.5L593.5 529.5"/>
<path class="kt" d="M592.0 529.0L592.6 532.5L594.2 532.0"/>
<path class="kf" d="M552.6 550.5C553.8 549.2 556.9 546.9 559.3 545.2C561.7 543.5 564.5 541.8 566.9 540.5C569.3 539.2 571.9 538.2 573.6 537.6C575.4 537.0 576.1 536.8 577.4 536.7C578.7 536.6 579.5 536.5 581.2 537.1C583.0 537.7 585.5 539.1 587.9 540.5C590.3 541.9 593.0 543.6 595.5 545.2C598.0 546.8 601.5 548.7 603.1 550.0C604.7 551.3 604.6 551.8 605.0 552.9C605.4 554.0 605.5 555.3 605.5 556.7C605.5 558.1 605.2 560.5 605.0 561.4C604.8 562.3 605.3 561.8 604.0 562.4C602.7 563.0 599.6 564.2 597.4 565.2C595.2 566.2 592.8 567.0 590.7 568.1C588.6 569.2 586.6 570.8 585.0 571.9C583.4 573.0 582.6 573.8 581.2 574.8C579.8 575.8 577.7 577.3 576.4 577.6C575.1 577.9 574.4 577.7 573.6 576.7C572.8 575.8 572.5 573.3 571.7 571.9C570.9 570.5 569.8 569.2 568.8 568.1C567.8 567.0 567.0 566.0 566.0 565.2C565.0 564.4 564.1 563.8 563.1 563.3C562.1 562.8 561.3 562.2 560.2 562.4C559.1 562.6 557.7 564.0 556.4 564.3C555.1 564.6 553.4 565.2 552.6 564.3C551.8 563.3 551.8 560.5 551.7 558.6C551.6 556.7 552.0 554.2 552.1 552.9C552.2 551.5 551.4 551.8 552.6 550.5Z" />
<line x1="590.4" y1="552.8" x2="598.3" y2="551.8" style="stroke:#666;stroke-width:0.8"/>
<line x1="590.2" y1="554.0" x2="598.0" y2="553.9" style="stroke:#666;stroke-width:0.8"/>
<line x1="589.6" y1="555.2" x2="597.0" y2="555.8" style="stroke:#666;stroke-width:0.8"/>
<line x1="588.7" y1="556.3" x2="595.4" y2="557.7" style="stroke:#666;stroke-width:0.8"/>
<line x1="587.4" y1="557.2" x2="593.2" y2="559.3" style="stroke:#666;stroke-width:0.8"/>
<line x1="585.8" y1="558.1" x2="590.6" y2="560.7" style="stroke:#666;stroke-width:0.8"/>
<line x1="584.0" y1="558.7" x2="587.5" y2="561.8" style="stroke:#666;stroke-width:0.8"/>
<line x1="582.0" y1="559.1" x2="584.1" y2="562.6" style="stroke:#666;stroke-width:0.8"/>
<line x1="579.9" y1="559.4" x2="580.6" y2="563.0" style="stroke:#666;stroke-width:0.8"/>
<line x1="577.7" y1="559.4" x2="577.0" y2="563.0" style="stroke:#666;stroke-width:0.8"/>
<line x1="575.6" y1="559.1" x2="573.5" y2="562.6" style="stroke:#666;stroke-width:0.8"/>
<line x1="573.6" y1="558.7" x2="570.1" y2="561.8" style="stroke:#666;stroke-width:0.8"/>
<line x1="571.8" y1="558.1" x2="567.0" y2="560.7" style="stroke:#666;stroke-width:0.8"/>
<line x1="570.2" y1="557.2" x2="564.4" y2="559.3" style="stroke:#666;stroke-width:0.8"/>
<line x1="568.9" y1="556.3" x2="562.2" y2="557.7" style="stroke:#666;stroke-width:0.8"/>
<line x1="568.0" y1="555.2" x2="560.6" y2="555.8" style="stroke:#666;stroke-width:0.8"/>
<line x1="567.4" y1="554.0" x2="559.6" y2="553.9" style="stroke:#666;stroke-width:0.8"/>
<line x1="567.2" y1="552.8" x2="559.3" y2="551.8" style="stroke:#666;stroke-width:0.8"/>
<line x1="567.4" y1="551.6" x2="559.6" y2="549.7" style="stroke:#666;stroke-width:0.8"/>
<line x1="568.0" y1="550.4" x2="560.6" y2="547.8" style="stroke:#666;stroke-width:0.8"/>
<line x1="568.9" y1="549.3" x2="562.2" y2="545.9" style="stroke:#666;stroke-width:0.8"/>
<line x1="570.2" y1="548.4" x2="564.4" y2="544.3" style="stroke:#666;stroke-width:0.8"/>
<line x1="571.8" y1="547.5" x2="567.0" y2="542.9" style="stroke:#666;stroke-width:0.8"/>
<line x1="573.6" y1="546.9" x2="570.1" y2="541.8" style="stroke:#666;stroke-width:0.8"/>
<line x1="575.6" y1="546.5" x2="573.5" y2="541.0" style="stroke:#666;stroke-width:0.8"/>
<line x1="577.7" y1="546.2" x2="577.0" y2="540.6" style="stroke:#666;stroke-width:0.8"/>
<line x1="579.9" y1="546.2" x2="580.6" y2="540.6" style="stroke:#666;stroke-width:0.8"/>
<line x1="582.0" y1="546.5" x2="584.1" y2="541.0" style="stroke:#666;stroke-width:0.8"/>
<line x1="584.0" y1="546.9" x2="587.5" y2="541.8" style="stroke:#666;stroke-width:0.8"/>
<line x1="585.8" y1="547.5" x2="590.6" y2="542.9" style="stroke:#666;stroke-width:0.8"/>
<line x1="587.4" y1="548.4" x2="593.2" y2="544.3" style="stroke:#666;stroke-width:0.8"/>
<line x1="588.7" y1="549.3" x2="595.4" y2="545.9" style="stroke:#666;stroke-width:0.8"/>
<line x1="589.6" y1="550.4" x2="597.0" y2="547.8" style="stroke:#666;stroke-width:0.8"/>
<line x1="590.2" y1="551.6" x2="598.0" y2="549.7" style="stroke:#666;stroke-width:0.8"/>
<ellipse cx="578.8" cy="551.8" rx="19.5" ry="11.2" style="fill:none;stroke:#777;stroke-width:0.7"/>
<ellipse cx="578.4" cy="552.9" rx="11.6" ry="6.6" style="fill:#fff;stroke:#555;stroke-width:0.8"/>
<ellipse cx="578.5" cy="551.9" rx="5.6" ry="3" style="fill:#fff;stroke:#222;stroke-width:1.1"/>
<path class="g" d="M553.0 553.0C554.3 553.8 557.8 556.1 561.0 557.5C564.2 558.9 568.3 560.6 572.0 561.5C575.7 562.4 581.2 562.8 583.0 563.0" />
<path class="g" d="M590.7 557.0C592.2 557.1 597.6 557.6 600.0 557.5C602.4 557.4 604.2 556.7 605.0 556.5" />
<path class="g" d="M582.5 566.5L582.5 569.5L602.0 559.5"/>
<path class="gl" d="M576.4 566.0L576.4 577.5"/>
<path class="gl" d="M580.2 566.0L580.2 575.0"/>
<path class="kt" d="M556.0 563.0C556.5 562.8 558.0 561.6 559.0 561.5C560.0 561.4 561.5 562.3 562.0 562.5" />
<path class="kf" d="M562.7 595.0C563.2 594.0 565.3 592.3 567.0 591.0C568.7 589.7 571.2 588.0 573.0 587.0C574.8 586.0 576.3 585.6 578.0 585.0C579.7 584.4 581.0 583.3 583.2 583.5C585.4 583.7 589.4 584.4 591.4 586.0C593.4 587.6 594.8 590.6 595.0 593.0C595.2 595.4 594.0 598.2 592.4 600.3C590.8 602.4 587.8 604.2 585.2 605.4C582.6 606.6 579.0 607.2 577.0 607.4C575.0 607.6 574.2 607.4 573.0 606.4C571.8 605.4 571.5 602.8 570.0 601.3C568.5 599.8 565.0 598.2 563.8 597.2C562.6 596.2 562.2 596.0 562.7 595.0Z" />
<ellipse cx="578.8" cy="591.2" rx="4.8" ry="3" style="fill:#fff;stroke:#333;stroke-width:1"/>
<ellipse cx="579.3" cy="591.8" rx="2.6" ry="1.5" style="fill:#fff;stroke:#777;stroke-width:0.7"/>
<path class="gl" d="M567.0 598.0L577.0 600.0L586.0 603.0"/>
<circle cx="193" cy="263" r="2.2" class="kf" style="stroke-width:1.2"/>
<path class="kt" d="M194.5 263.8L208.2 269.3"/>
<path class="kt" d="M194.5 265.3L207.8 270.9"/>
<circle cx="383.4" cy="169.7" r="2.5" class="kf" style="stroke-width:1.3"/>
<path class="kt" d="M385.8 170.0L400.0 175.8"/>
<path class="kt" d="M385.8 171.8L398.5 177.8"/>
<path d="M399.3 177.4C400.8 178.2 405.7 180.8 408.5 182.2C411.3 183.6 413.2 184.6 416.0 186.0C418.8 187.4 421.2 188.7 425.0 190.7C428.8 192.7 433.5 195.3 439.0 198.1C444.5 200.9 451.7 204.5 458.0 207.6C464.3 210.7 470.7 213.3 477.0 216.7C483.3 220.1 491.2 224.6 496.0 228.0C500.8 231.4 502.6 233.7 506.0 237.0C509.4 240.3 513.5 244.3 516.5 248.0C519.5 251.7 521.8 255.1 524.0 259.0C526.2 262.9 528.2 268.0 530.0 271.5C531.8 275.0 532.7 275.9 534.5 280.0C536.3 284.1 539.0 290.7 541.0 296.0C543.0 301.3 544.9 307.7 546.8 312.0C548.7 316.3 550.7 318.5 552.5 322.0C554.3 325.5 555.8 329.8 557.5 333.0C559.2 336.2 561.3 338.6 562.9 341.0C564.5 343.4 565.5 344.8 567.0 347.6C568.5 350.4 570.2 354.2 572.0 357.6C573.8 361.0 575.6 364.0 577.6 367.7C579.6 371.4 582.0 375.8 584.0 379.7C586.0 383.6 587.8 387.5 589.6 391.0C591.4 394.5 592.9 397.3 594.6 400.5C596.3 403.7 598.2 406.8 600.0 410.0C601.8 413.2 604.0 417.3 605.4 420.0C606.8 422.7 607.6 424.3 608.5 426.0C609.4 427.7 610.6 429.3 611.0 430.0" style="fill:none;stroke:#000;stroke-width:6.2;stroke-linejoin:round"/>
<path d="M399.3 177.4C400.8 178.2 405.7 180.8 408.5 182.2C411.3 183.6 413.2 184.6 416.0 186.0C418.8 187.4 421.2 188.7 425.0 190.7C428.8 192.7 433.5 195.3 439.0 198.1C444.5 200.9 451.7 204.5 458.0 207.6C464.3 210.7 470.7 213.3 477.0 216.7C483.3 220.1 491.2 224.6 496.0 228.0C500.8 231.4 502.6 233.7 506.0 237.0C509.4 240.3 513.5 244.3 516.5 248.0C519.5 251.7 521.8 255.1 524.0 259.0C526.2 262.9 528.2 268.0 530.0 271.5C531.8 275.0 532.7 275.9 534.5 280.0C536.3 284.1 539.0 290.7 541.0 296.0C543.0 301.3 544.9 307.7 546.8 312.0C548.7 316.3 550.7 318.5 552.5 322.0C554.3 325.5 555.8 329.8 557.5 333.0C559.2 336.2 561.3 338.6 562.9 341.0C564.5 343.4 565.5 344.8 567.0 347.6C568.5 350.4 570.2 354.2 572.0 357.6C573.8 361.0 575.6 364.0 577.6 367.7C579.6 371.4 582.0 375.8 584.0 379.7C586.0 383.6 587.8 387.5 589.6 391.0C591.4 394.5 592.9 397.3 594.6 400.5C596.3 403.7 598.2 406.8 600.0 410.0C601.8 413.2 604.0 417.3 605.4 420.0C606.8 422.7 607.6 424.3 608.5 426.0C609.4 427.7 610.6 429.3 611.0 430.0" style="fill:none;stroke:#fff;stroke-width:3.2;stroke-linejoin:round"/>
<circle cx="407.1" cy="137" r="2.5" class="kf" style="stroke-width:1.3"/>
<path class="kt" d="M409.5 137.6L423.0 143.6"/>
<path class="kt" d="M409.3 139.3L422.5 145.6"/>
<path d="M423.5 145.2C424.5 145.7 427.0 147.1 429.4 148.2C431.8 149.3 434.8 150.6 438.1 151.7C441.4 152.8 445.4 154.0 449.0 155.0C452.6 156.0 456.3 156.9 459.9 157.7C463.5 158.5 467.3 159.3 470.7 160.0C474.1 160.7 476.8 161.1 480.0 161.8C483.2 162.5 487.0 163.3 490.0 164.0C493.0 164.7 495.5 165.1 498.2 166.0C500.9 166.9 503.6 168.1 506.3 169.2C509.0 170.3 511.8 171.3 514.5 172.5C517.2 173.7 520.3 175.0 522.7 176.6C525.1 178.2 526.9 180.2 528.8 182.3C530.7 184.4 532.5 186.6 534.1 188.9C535.7 191.2 537.1 193.5 538.5 196.0C539.9 198.5 541.2 201.3 542.5 204.0C543.8 206.7 545.3 209.0 546.5 212.0C547.7 215.0 548.7 218.7 549.5 222.0C550.3 225.3 550.7 228.7 551.2 232.0C551.7 235.3 552.0 238.6 552.4 241.6C552.8 244.6 553.1 247.3 553.5 250.0C553.9 252.7 554.5 254.7 555.0 258.0C555.5 261.3 555.7 266.1 556.3 270.0C556.9 273.9 557.6 276.5 558.4 281.5C559.2 286.5 559.9 294.9 560.9 300.0C561.9 305.1 563.3 308.3 564.5 312.0C565.7 315.7 566.8 318.7 568.0 322.0C569.2 325.3 570.4 329.0 571.5 332.0C572.6 335.0 573.5 337.4 574.6 340.0C575.8 342.6 576.5 343.8 578.4 347.6C580.3 351.4 583.3 357.6 586.0 362.7C588.7 367.8 591.4 373.0 594.5 378.0C597.6 383.0 601.5 388.3 604.8 392.8C608.1 397.3 611.1 400.7 614.5 405.2C617.9 409.7 621.9 415.9 625.0 420.0C628.1 424.1 630.8 427.0 633.0 430.0C635.2 433.0 636.8 435.3 638.5 438.0C640.2 440.7 642.2 444.7 643.0 446.0" style="fill:none;stroke:#000;stroke-width:5.4;stroke-linejoin:round"/>
<path d="M423.5 145.2C424.5 145.7 427.0 147.1 429.4 148.2C431.8 149.3 434.8 150.6 438.1 151.7C441.4 152.8 445.4 154.0 449.0 155.0C452.6 156.0 456.3 156.9 459.9 157.7C463.5 158.5 467.3 159.3 470.7 160.0C474.1 160.7 476.8 161.1 480.0 161.8C483.2 162.5 487.0 163.3 490.0 164.0C493.0 164.7 495.5 165.1 498.2 166.0C500.9 166.9 503.6 168.1 506.3 169.2C509.0 170.3 511.8 171.3 514.5 172.5C517.2 173.7 520.3 175.0 522.7 176.6C525.1 178.2 526.9 180.2 528.8 182.3C530.7 184.4 532.5 186.6 534.1 188.9C535.7 191.2 537.1 193.5 538.5 196.0C539.9 198.5 541.2 201.3 542.5 204.0C543.8 206.7 545.3 209.0 546.5 212.0C547.7 215.0 548.7 218.7 549.5 222.0C550.3 225.3 550.7 228.7 551.2 232.0C551.7 235.3 552.0 238.6 552.4 241.6C552.8 244.6 553.1 247.3 553.5 250.0C553.9 252.7 554.5 254.7 555.0 258.0C555.5 261.3 555.7 266.1 556.3 270.0C556.9 273.9 557.6 276.5 558.4 281.5C559.2 286.5 559.9 294.9 560.9 300.0C561.9 305.1 563.3 308.3 564.5 312.0C565.7 315.7 566.8 318.7 568.0 322.0C569.2 325.3 570.4 329.0 571.5 332.0C572.6 335.0 573.5 337.4 574.6 340.0C575.8 342.6 576.5 343.8 578.4 347.6C580.3 351.4 583.3 357.6 586.0 362.7C588.7 367.8 591.4 373.0 594.5 378.0C597.6 383.0 601.5 388.3 604.8 392.8C608.1 397.3 611.1 400.7 614.5 405.2C617.9 409.7 621.9 415.9 625.0 420.0C628.1 424.1 630.8 427.0 633.0 430.0C635.2 433.0 636.8 435.3 638.5 438.0C640.2 440.7 642.2 444.7 643.0 446.0" style="fill:none;stroke:#fff;stroke-width:2.6;stroke-linejoin:round"/>
<path class="k" d="M531.8 216.4C532.8 217.2 536.0 219.1 538.1 221.4C540.2 223.7 543.4 228.8 544.4 230.3" />
<path class="k" d="M538.4 262.6C538.8 263.8 539.8 266.8 540.7 269.7C541.6 272.6 542.9 276.6 543.9 279.9C544.9 283.2 546.1 286.0 547.0 289.4C547.9 292.8 548.4 295.7 549.4 300.0C550.4 304.3 551.7 310.0 553.0 315.0C554.3 320.0 556.0 325.3 557.3 330.0C558.6 334.7 559.6 338.4 561.0 343.0C562.4 347.6 565.1 355.2 565.9 357.6" />
<path class="kt" d="M561.2 277.6C561.7 279.3 563.0 284.3 564.0 288.0C565.0 291.7 566.9 298.0 567.5 300.0" />
<path d="M553 330.6 A18.4 14.6 -8 1 1 573.2 319.8" style="fill:none;stroke:#000;stroke-width:4.2;stroke-linecap:butt"/>
<path d="M553 330.6 A18.4 14.6 -8 1 1 573.2 319.8" style="fill:none;stroke:#d0d0d0;stroke-width:1.9;stroke-linecap:butt"/>
<circle cx="552.8" cy="302" r="1.6" class="kf" style="stroke-width:1"/>
<path d="M400.3 434.1 A16.7 16.9 0 1 1 418.6 417.4" style="fill:none;stroke:#000;stroke-width:4.2;stroke-linecap:butt"/>
<path d="M400.3 434.1 A16.7 16.9 0 1 1 418.6 417.4" style="fill:none;stroke:#d0d0d0;stroke-width:1.9;stroke-linecap:butt"/>
<path d="M387.6 410.9 l3.2 -0.8" class="kt"/>
<path class="g" d="M275.3 89.7L262.6 116.2"/>
<path class="g" d="M102.5 236.0L67.1 323.0"/>
<path class="g" d="M155.0 261.0L163.3 322.5"/>
<path class="g" d="M211.0 276.0L163.3 322.5"/>
<path class="g" d="M370.5 83.0L378.2 113.5"/>
<path class="g" d="M452.5 119.0L427.8 145.7"/>
<path class="g" d="M393.7 178.9L382.9 204.0"/>
<path class="g" d="M301.0 260.0L351.1 297.8"/>
<path class="g" d="M361.0 252.5L397.5 261.0"/>
<path class="g" d="M573.5 304.5L593.5 294.3"/>
<path class="g" d="M498.8 353.8L512.5 343.8"/>
<path class="g" d="M499.0 385.0L541.0 374.0"/>
<path class="g" d="M363.8 445.0L387.5 432.5"/>
<path class="g" d="M405.0 476.0L417.5 447.5"/>
<path class="g" d="M549.0 471.0L570.0 479.5"/>
<path class="g" d="M627.5 554.0L605.0 557.5"/>
<path class="g" d="M595.5 596.0L625.0 602.0"/>
<text x="255.5" y="127.5">13</text>
<text x="61.0" y="336.0">13</text>
<text x="154.0" y="336.0">8.1</text>
<text x="368.0" y="81.0">7.2</text>
<text x="446.0" y="117.0">11.2</text>
<text x="377.5" y="232.0">11.2</text>
<text x="284.0" y="257.5">10</text>
<text x="351.5" y="256.0">5</text>
<text x="597.0" y="299.5">6</text>
<text x="488.5" y="358.5">9</text>
<text x="488.5" y="390.0">3</text>
<text x="355.0" y="449.3">6</text>
<text x="401.5" y="488.8">1</text>
<text x="532.0" y="477.5">12</text>
<text x="628.5" y="559.0">2</text>
<text x="628.0" y="607.5">4</text>
<circle cx="427.3" cy="111.9" r="5.6" fill="#000"/>
<circle cx="438.8" cy="111.9" r="5.6" fill="#000"/>
<text x="427.3" y="115.4" text-anchor="middle" style="font-size:10px;fill:#fff;font-weight:bold">C</text>
<text x="438.9" y="115.4" text-anchor="middle" style="font-size:10px;fill:#fff;font-weight:bold">E</text>
<path class="gl" d="M196.0 582.0L201.0 581.5"/>
<path class="gl" d="M79.5 635.5C81.5 634.9 88.2 632.6 91.7 631.7C95.2 630.8 98.4 630.2 100.7 630.1C103.0 630.0 104.6 630.6 105.6 631.3C106.5 631.9 106.3 633.5 106.4 634.0" />
<path class="gl" d="M64.5 635.0L64.5 633.3L67.0 633.0"/>
</svg>
</body></html>
